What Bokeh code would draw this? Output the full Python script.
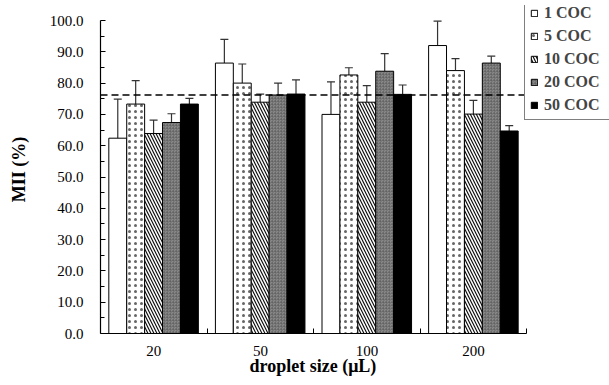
from bokeh.plotting import figure
from bokeh.models import (ColumnDataSource, Whisker, TeeHead, Span, Legend, LegendItem,
                          FixedTicker, Range1d, NumeralTickFormatter, Title)
from bokeh.embed import file_html
from bokeh.resources import INLINE

groups = ["20", "50", "100", "200"]
series = ["1 COC", "5 COC", "10 COC", "20 COC", "50 COC"]
values = {
    "1 COC":  [62.4, 86.4, 70.0, 92.0],
    "5 COC":  [73.3, 80.0, 82.6, 84.0],
    "10 COC": [63.9, 73.9, 73.9, 70.1],
    "20 COC": [67.4, 76.2, 83.8, 86.4],
    "50 COC": [73.3, 76.5, 76.4, 64.7],
}
errors_upper = {
    "1 COC":  [74.9, 94.0, 80.4, 99.8],
    "5 COC":  [80.8, 86.1, 84.9, 87.8],
    "10 COC": [68.2, 76.5, 79.2, 74.5],
    "20 COC": [70.2, 80.0, 89.4, 88.6],
    "50 COC": [75.1, 81.0, 79.4, 66.4],
}
reference_line = 76.2
y_ticks = list(range(0, 101, 10))

styles = {
    "1 COC":  dict(fill_color="white"),
    "5 COC":  dict(fill_color="white", hatch_pattern="dot", hatch_scale=6, hatch_weight=0.5, hatch_color="#666666"),
    "10 COC": dict(fill_color="white", hatch_pattern="left_diagonal_line", hatch_scale=6, hatch_weight=1.2, hatch_color="#111111"),
    "20 COC": dict(fill_color="#8a8a8a", hatch_pattern="criss_cross", hatch_scale=3, hatch_weight=0.6, hatch_color="#555555", hatch_alpha=0.6),
    "50 COC": dict(fill_color="black"),
}

FONT = "Liberation Serif"
n_groups = len(groups)

# frame: x 100..609 px (106.6 px per group), y 5..333 px (100 units = 313 px)
p = figure(width=609, height=385, output_backend="svg", toolbar_location=None,
           x_range=Range1d(0, 509 / 106.6), y_range=Range1d(0, 100 * 328 / 313),
           min_border_left=100, min_border_right=0, min_border_top=5, min_border_bottom=52)
p.outline_line_color = None
p.grid.grid_line_color = None
p.background_fill_color = "white"

bar_w = 0.168
offset0 = 0.078
items = []
for j, s in enumerate(series):
    xs = [i + offset0 + bar_w * (j + 0.5) for i in range(n_groups)]
    src = ColumnDataSource(dict(x=xs, top=values[s], up=errors_upper[s]))
    r = p.vbar(x="x", top="top", width=bar_w, source=src, line_color="black", line_width=1, **styles[s])
    w = Whisker(base="x", lower="top", upper="up", source=src, dimension="height",
                line_color="#333333", line_width=1.2, lower_head=None,
                upper_head=TeeHead(size=8, line_color="#333333", line_width=1.2))
    p.add_layout(w)
    items.append(LegendItem(label=s, renderers=[r]))

p.add_layout(Span(location=reference_line, dimension="width", line_color="black",
                  line_width=1.5, line_dash="7 4"))

legend = Legend(items=items, location=(424, 213), border_line_color="black", border_line_width=1,
                label_text_font=FONT, label_text_font_style="bold", label_text_font_size="16px",
                glyph_width=8, glyph_height=8, label_height=17, spacing=5, padding=5,
                label_standoff=6, label_width=60, margin=0,
                background_fill_color="white", background_fill_alpha=1)
p.add_layout(legend, "center")

# x axis
centers = [i + 0.5 for i in range(n_groups)]
p.xaxis.bounds = (0, n_groups)
p.xaxis.ticker = FixedTicker(ticks=centers, minor_ticks=list(range(1, n_groups + 1)))
p.xaxis.major_label_overrides = {c: g for c, g in zip(centers, groups)}
p.xaxis.major_tick_in = 0
p.xaxis.major_tick_out = 0
p.xaxis.minor_tick_in = 5
p.xaxis.minor_tick_out = 0
p.xaxis.major_label_standoff = 12

p.add_layout(Title(text="droplet size (μL)", align="left", offset=149, standoff=-9,
                   text_font=FONT, text_font_size="18px", text_font_style="bold",
                   text_color="black"), "below")

# y axis
p.yaxis.bounds = (0, 100)
p.yaxis.ticker = FixedTicker(ticks=y_ticks, minor_ticks=[t + 5 for t in y_ticks[:-1]])
p.yaxis.formatter = NumeralTickFormatter(format="0.0")
p.yaxis.major_tick_in = 5
p.yaxis.major_tick_out = 0
p.yaxis.minor_tick_in = 4
p.yaxis.minor_tick_out = 0
p.yaxis.axis_label = "MII (%)"
p.yaxis.major_label_standoff = 17

for ax in (p.xaxis, p.yaxis):
    ax.axis_line_color = "black"
    ax.axis_line_width = 1.2
    ax.major_tick_line_color = "black"
    ax.minor_tick_line_color = "black"
    ax.major_label_text_font = FONT
    ax.major_label_text_font_size = "15px"
    ax.major_label_text_color = "black"
    ax.axis_label_text_font = FONT
    ax.axis_label_text_font_size = "18px"
    ax.axis_label_text_font_style = "bold"
    ax.axis_label_text_color = "black"
p.yaxis.axis_label_standoff = 18

open("out.html", "w").write(file_html(p, INLINE))
